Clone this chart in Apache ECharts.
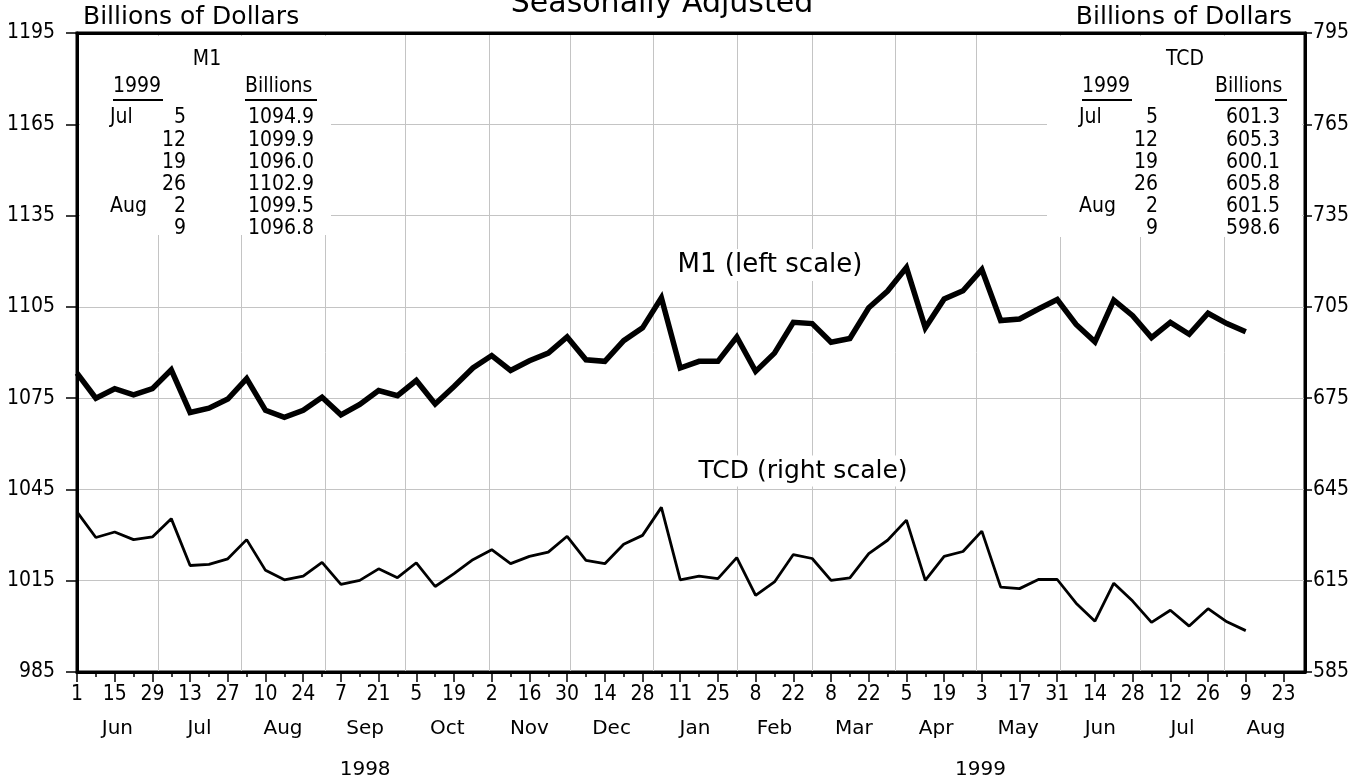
<!DOCTYPE html>
<html>
<head>
<meta charset="utf-8">
<script src="https://cdn.jsdelivr.net/npm/echarts@6/dist/echarts.min.js"></script>
<style>
  html, body { margin: 0; padding: 0; background: #fff; }
  #main { width: 1372px; height: 782px; }
</style>
</head>
<body>
<div id="main"></div>
<script>
// weekly data, Mondays from Jun 1 1998
var startDate = '1998-06-01';
var lastTickDate = '1999-08-23';
var axisEndDate = '1999-08-31';

var m1Values = [1083.2, 1075.0, 1078.1, 1076.1, 1078.1, 1084.3, 1070.3, 1071.7, 1074.7, 1081.4,
  1071.0, 1068.7, 1071.0, 1075.3, 1069.5, 1072.9, 1077.5, 1075.8, 1080.8, 1073.1,
  1078.8, 1084.9, 1089.0, 1084.1, 1087.3, 1089.8, 1095.1, 1087.6, 1087.1, 1093.9,
  1098.1, 1108.0, 1084.9, 1087.1, 1087.1, 1095.1, 1083.8, 1089.8, 1099.9, 1099.5,
  1093.4, 1094.6, 1104.7, 1110.2, 1117.9, 1098.1, 1107.6, 1110.3, 1117.3, 1100.5,
  1101.0, 1104.3, 1107.4, 1099.2, 1093.5, 1107.2, 1102.1, 1094.9, 1099.9, 1096.0,
  1102.9, 1099.5, 1096.8];

var tcdValues = [637.6, 629.2, 631.0, 628.5, 629.4, 635.4, 620.0, 620.4, 622.2, 628.5,
  618.4, 615.3, 616.5, 621.0, 613.8, 615.1, 618.9, 616.0, 620.9, 613.1,
  617.3, 621.9, 625.2, 620.6, 623.0, 624.4, 629.6, 621.7, 620.6, 627.0,
  629.9, 639.1, 615.3, 616.5, 615.7, 622.6, 610.2, 614.6, 623.6, 622.3,
  615.1, 615.9, 623.9, 628.3, 634.9, 615.1, 623.0, 624.6, 631.3, 612.9,
  612.4, 615.4, 615.4, 607.6, 601.7, 614.2, 608.3, 601.3, 605.3, 600.1,
  605.8, 601.5, 598.6];

var monthNames = ['Jan', 'Feb', 'Mar', 'Apr', 'May', 'Jun', 'Jul', 'Aug', 'Sep', 'Oct', 'Nov', 'Dec'];
var leftTicks = [985, 1015, 1045, 1075, 1105, 1135, 1165, 1195];
var rightTicks = [585, 615, 645, 675, 705, 735, 765, 795];

var DAY = 86400000;
var FONT = '"DejaVu Sans"';
var CONDFONT = '"DejaVu Sans Condensed", "DejaVu Sans"';

function utc(s) {
  var p = s.split('-');
  return Date.UTC(+p[0], +p[1] - 1, +p[2]);
}
function plain(v) {
  return String(v);
}

var t0 = utc(startDate), tLast = utc(lastTickDate), tEnd = utc(axisEndDate);

var weekDates = m1Values.map(function (v, i) { return t0 + i * 7 * DAY; });
var m1Data = m1Values.map(function (v, i) { return [weekDates[i], v]; });
var tcdData = tcdValues.map(function (v, i) { return [weekDates[i], v]; });

var weekTicks = [], labelTicks = [];
for (var t = t0, k = 0; t <= tLast; t += 7 * DAY, k++) {
  weekTicks.push(t);
  if (k % 2 === 0) labelTicks.push(t);
}

var monthStarts = [], monthMids = [];
for (var y = 1998, m = 5; ; m++) {
  var s = Date.UTC(y, m, 1);
  if (s > tEnd) break;
  var n = Date.UTC(y, m + 1, 1);
  if (s > t0) monthStarts.push(s);
  monthMids.push((s + n) / 2);
}
var yearMids = [
  (t0 + Date.UTC(1999, 0, 1)) / 2,
  (Date.UTC(1999, 0, 1) + tEnd + DAY) / 2
];

// inset tables: last six weeks
function tableRows(values) {
  var rows = [];
  for (var i = values.length - 6; i < values.length; i++) {
    var d = new Date(weekDates[i]);
    var prev = i > values.length - 6 ? new Date(weekDates[i - 1]) : null;
    rows.push({
      month: (!prev || prev.getUTCMonth() !== d.getUTCMonth()) ? monthNames[d.getUTCMonth()] : '',
      day: String(d.getUTCDate()),
      value: values[i].toFixed(1)
    });
  }
  return rows;
}

function tableGraphic(title, values, pos) {
  var els = [];
  var txt = function (text, x, y, align) {
    els.push({
      type: 'text', z: 5,
      style: { text: text, x: x, y: y, align: align, verticalAlign: 'middle',
        font: '21px ' + CONDFONT, fill: '#000' }
    });
  };
  txt(title, pos.title, 60, 'center');
  txt('1999', pos.year, 87, 'left');
  txt('Billions', pos.bill, 87, 'left');
  els.push({ type: 'line', z: 5, shape: { x1: pos.year, y1: 100, x2: pos.year + 50, y2: 100 },
    style: { stroke: '#000', lineWidth: 2 } });
  els.push({ type: 'line', z: 5, shape: { x1: pos.bill, y1: 100, x2: pos.bill + 72, y2: 100 },
    style: { stroke: '#000', lineWidth: 2 } });
  tableRows(values).forEach(function (r, i) {
    var yy = 118 + i * 22.2;
    if (r.month) txt(r.month, pos.month, yy, 'left');
    txt(r.day, pos.day, yy, 'right');
    txt(r.value, pos.value, yy, 'right');
  });
  return els;
}

var graphics = [
  { type: 'rect', z: 1, shape: { x: 80, y: 36, width: 251, height: 199 }, style: { fill: '#fff' } },
  { type: 'rect', z: 1, shape: { x: 1047, y: 36, width: 255, height: 201 }, style: { fill: '#fff' } },
  { type: 'text', z: 5, style: { text: 'Billions of Dollars', x: 83, y: 17, verticalAlign: 'middle',
      font: '25px ' + FONT, fill: '#000' } },
  { type: 'text', z: 5, style: { text: 'Billions of Dollars', x: 1292, y: 17, align: 'right', verticalAlign: 'middle',
      font: '25px ' + FONT, fill: '#000' } },
  { type: 'text', z: 5, style: { text: 'Seasonally Adjusted', x: 662, y: 4, align: 'center', verticalAlign: 'middle',
      font: '30px ' + FONT, fill: '#000' } },
  { type: 'text', z: 1, style: { text: 'M1 (left scale)', x: 770, y: 265, align: 'center', verticalAlign: 'middle',
      font: '26px ' + FONT, fill: '#000', backgroundColor: '#fff', padding: [3, 4] } },
  { type: 'text', z: 1, style: { text: 'TCD (right scale)', x: 803, y: 471, align: 'center', verticalAlign: 'middle',
      font: '25px ' + FONT, fill: '#000', backgroundColor: '#fff', padding: [3, 4] } }
].concat(
  tableGraphic('M1', m1Values, { title: 207, year: 113, bill: 245, month: 110, day: 186, value: 314 }),
  tableGraphic('TCD', tcdValues, { title: 1185, year: 1082, bill: 1215, month: 1079, day: 1158, value: 1280 })
);

var chart = echarts.init(document.getElementById('main'));
var baseX = { type: 'value', min: t0, max: tEnd, position: 'bottom', gridIndex: 0,
  axisLine: { show: false, onZero: false }, splitLine: { show: false } };
var numLabel = { color: '#000', fontFamily: CONDFONT, fontSize: 21 };
var wordLabel = { color: '#000', fontFamily: FONT, fontSize: 20 };

chart.setOption({
  animation: false,
  backgroundColor: '#fff',
  grid: { left: 77, right: 67, top: 33, bottom: 110, outerBoundsMode: 'none',
    show: true, borderColor: '#000', borderWidth: 3 },
  xAxis: [
    Object.assign({}, baseX, {
      axisLine: { show: true, onZero: false, lineStyle: { color: '#000', width: 3 } },
      axisTick: { show: true, customValues: labelTicks, length: 10, lineStyle: { color: '#000', width: 1.5 } },
      axisLabel: Object.assign({ customValues: labelTicks, margin: 12,
        formatter: function (v) { return String(new Date(v).getUTCDate()); } }, numLabel)
    }),
    Object.assign({}, baseX, {
      axisTick: { show: true, customValues: weekTicks, length: 5, lineStyle: { color: '#000', width: 1.5 } },
      axisLabel: { show: false }
    }),
    Object.assign({}, baseX, {
      axisTick: { show: false, customValues: monthStarts },
      splitLine: { show: true, lineStyle: { color: '#c4c4c4', width: 1 } },
      axisLabel: Object.assign({ customValues: monthMids, margin: 47,
        formatter: function (v) { return monthNames[new Date(v).getUTCMonth()]; } }, wordLabel)
    }),
    Object.assign({}, baseX, {
      axisTick: { show: false },
      axisLabel: Object.assign({ customValues: yearMids, margin: 88,
        formatter: function (v) { return String(new Date(v).getUTCFullYear()); } }, wordLabel)
    }),
    // top frame line
    Object.assign({}, baseX, {
      position: 'top',
      axisLine: { show: true, onZero: false, lineStyle: { color: '#000', width: 3 } },
      axisTick: { show: false },
      axisLabel: { show: false }
    })
  ],
  yAxis: [
    {
      type: 'value', position: 'left', min: leftTicks[0], max: leftTicks[leftTicks.length - 1],
      axisLine: { show: true, lineStyle: { color: '#000', width: 3 } },
      axisTick: { show: true, customValues: leftTicks, length: 11, lineStyle: { color: '#000', width: 1.5 } },
      axisLabel: Object.assign({ customValues: leftTicks, margin: 22, formatter: plain }, numLabel),
      splitLine: { show: true, lineStyle: { color: '#c4c4c4', width: 1 } }
    },
    {
      type: 'value', position: 'right', min: rightTicks[0], max: rightTicks[rightTicks.length - 1],
      axisLine: { show: true, lineStyle: { color: '#000', width: 3 } },
      axisTick: { show: true, customValues: rightTicks, length: 7, lineStyle: { color: '#000', width: 1.5 } },
      axisLabel: Object.assign({ customValues: rightTicks, margin: 8, formatter: plain }, numLabel),
      splitLine: { show: false }
    }
  ],
  series: [
    { name: 'M1', type: 'line', xAxisIndex: 0, yAxisIndex: 0, data: m1Data, symbol: 'none', z: 3,
      lineStyle: { color: '#000', width: 5.5, join: 'miter' } },
    { name: 'TCD', type: 'line', xAxisIndex: 0, yAxisIndex: 1, data: tcdData, symbol: 'none', z: 3,
      lineStyle: { color: '#000', width: 2.8 } }
  ],
  graphic: { elements: graphics }
});
</script>
</body>
</html>
